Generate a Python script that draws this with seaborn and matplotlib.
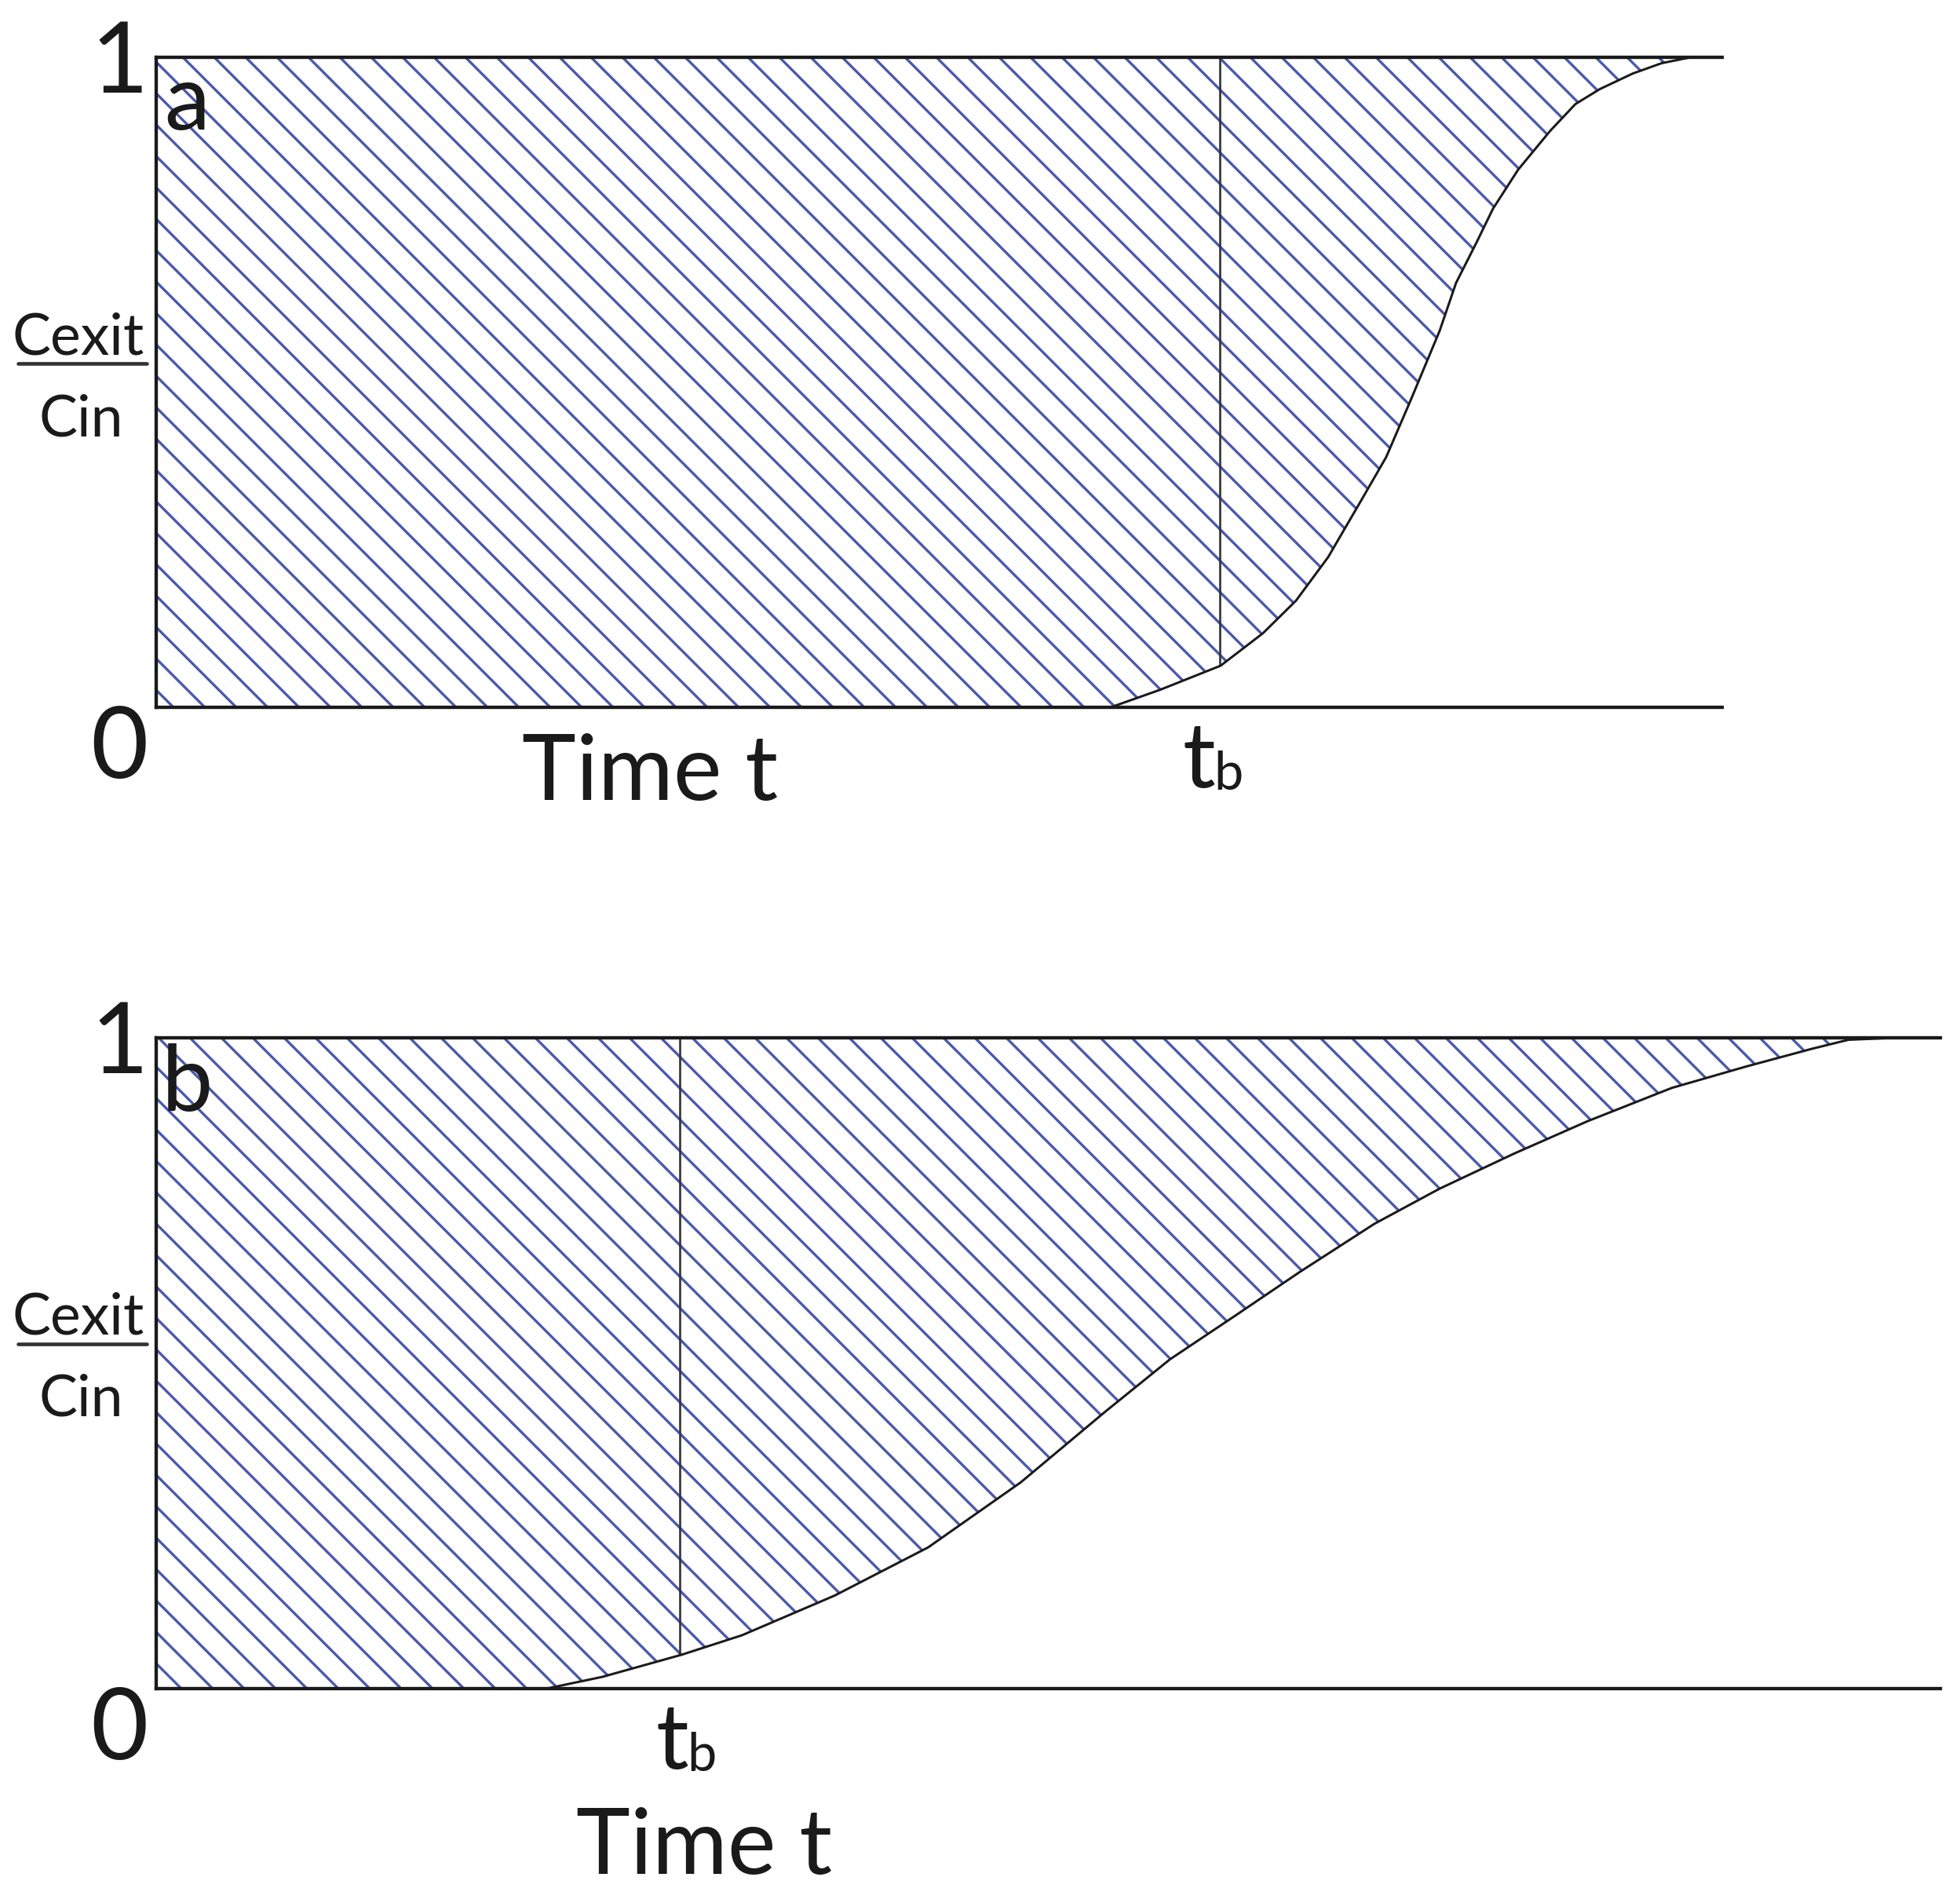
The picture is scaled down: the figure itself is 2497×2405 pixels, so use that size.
import numpy as np
import pandas as pd
import matplotlib.pyplot as plt
import seaborn as sns
from matplotlib.lines import Line2D

# breakthrough curves (time in arbitrary units, Cexit/Cin)
time_a = [0.0, 12.16, 12.79, 13.56, 14.10, 14.52, 14.93, 15.35, 15.67, 15.98, 16.35,
          16.56, 16.82, 17.03, 17.35, 17.76, 18.08, 18.39, 18.81, 19.18, 19.55, 19.95]
conc_a = [0.0, 0.0, 0.027, 0.064, 0.114, 0.164, 0.231, 0.318, 0.385, 0.472, 0.579,
          0.653, 0.715, 0.767, 0.827, 0.887, 0.928, 0.951, 0.975, 0.991, 1.0, 1.0]
tb_a = 13.55

time_b = [0.0, 4.97, 5.68, 6.69, 7.46, 8.64, 9.83, 11.01, 12.08, 12.91, 13.74,
          14.56, 15.51, 16.34, 17.29, 18.23, 19.30, 20.25, 21.08, 21.55, 22.14, 22.72]
conc_b = [0.0, 0.0, 0.018, 0.052, 0.082, 0.143, 0.217, 0.317, 0.425, 0.506, 0.573,
          0.640, 0.714, 0.768, 0.822, 0.872, 0.923, 0.956, 0.983, 0.997, 1.0, 1.0]
tb_b = 6.67

panel_labels = ["a", "b"]
y_labels = ["0", "1"]

W, H, DPI = 2497, 2405, 240

sns.set_style("white")
plt.rcParams["font.family"] = ["Lato", "DejaVu Sans"]
plt.rcParams["hatch.linewidth"] = 1.0

HATCH = "#4a58ad"
INK = "#1a1a1a"


def fx(px):
    return px / W


def fy(py):
    return 1 - py / H


fig = plt.figure(figsize=(W / DPI, H / DPI), dpi=DPI)
fig.patch.set_facecolor("white")

# axes boxes in pixels: left, top, right, bottom
boxes = [(199, 73, 2194, 901), (199, 1322, 2472, 2151)]
xmax = [19.95, 22.72]
curves = [(time_a, conc_a, tb_a), (time_b, conc_b, tb_b)]

for (l, t, r, b), xm, (tt, cc, tb) in zip(boxes, xmax, curves):
    ax = fig.add_axes([fx(l), fy(b), fx(r - l), (b - t) / H])
    df = pd.DataFrame({"time": tt, "conc": cc})
    ax.fill_between(df["time"], df["conc"], 1, facecolor="white",
                    edgecolor=HATCH, linewidth=0, hatch="\\\\", zorder=1)
    sns.lineplot(data=df, x="time", y="conc", ax=ax, color=INK, lw=0.9,
                 sort=False, zorder=3)
    ax.vlines(tb, np.interp(tb, tt, cc), 1, color="#333333", lw=0.8, zorder=2)
    ax.set_xlim(0, xm)
    ax.set_ylim(0, 1)
    ax.set_xticks([])
    ax.set_yticks([])
    ax.set_xlabel("")
    ax.set_ylabel("")
    ax.spines["right"].set_visible(False)
    for s in ["left", "top", "bottom"]:
        ax.spines[s].set_color(INK)
        ax.spines[s].set_linewidth(1.3)
        ax.spines[s].set_zorder(4)

# text labels (pixel positions of baselines)
big = 38
mid = 35
sub = 20
frac = 22

for (l, t, r, b), lab, tb_px, tlab_px, time_px, bar_y in [
        ((199, 73, 2194, 901), panel_labels[0], 1548, 1003, (828, 1019), 463),
        ((199, 1322, 2472, 2151), panel_labels[1], 877, 2253, (897, 2387), 1712)]:
    fig.text(fx(152), fy(t + 45), y_labels[1], ha="center", va="baseline",
             fontsize=big, color=INK)
    fig.text(fx(152), fy(b + 90), y_labels[0], ha="center", va="baseline",
             fontsize=big, color=INK)
    fig.text(fx(238), fy(t + 92), lab, ha="center", va="baseline",
             fontsize=mid, color=INK)
    fig.text(fx(tb_px), fy(tlab_px), "t", ha="right", va="baseline",
             fontsize=mid, color=INK)
    fig.text(fx(tb_px - 2), fy(tlab_px + 3), "b", ha="left", va="baseline",
             fontsize=sub, color=INK)
    fig.text(fx(time_px[0]), fy(time_px[1]), "Time t", ha="center",
             va="baseline", fontsize=mid, color=INK)
    fig.text(fx(100), fy(bar_y - 12), "Cexit", ha="center", va="baseline",
             fontsize=frac, color=INK)
    fig.text(fx(103), fy(bar_y + 92), "Cin", ha="center", va="baseline",
             fontsize=frac, color=INK)
    fig.add_artist(Line2D([fx(23), fx(187)], [fy(bar_y), fy(bar_y)],
                          color="#333333", lw=1.4))

fig.savefig("out.png", dpi=DPI, facecolor="white")
